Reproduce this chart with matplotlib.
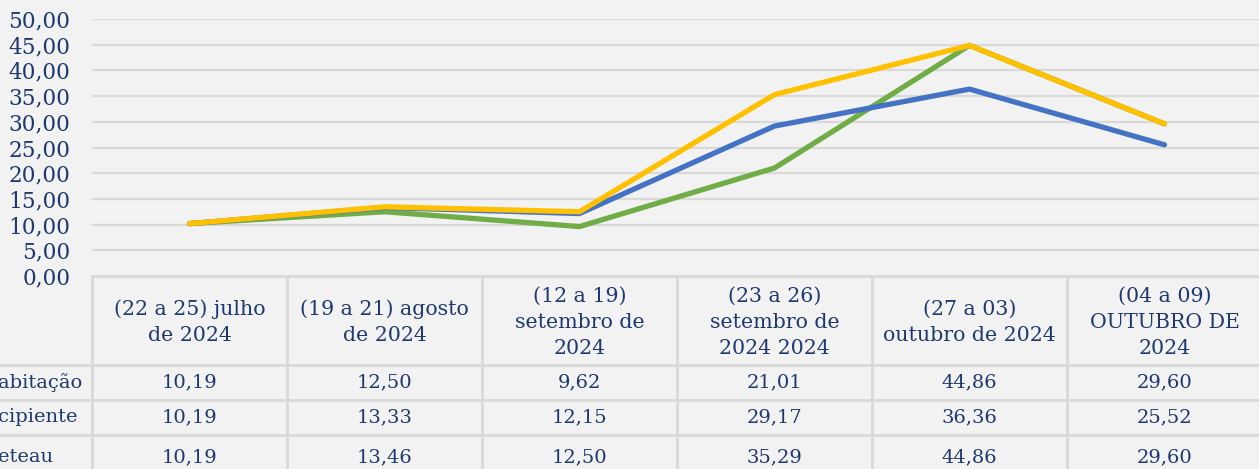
import matplotlib.pyplot as plt

# Data
periodos = ["(22 a 25) julho\nde 2024", "(19 a 21) agosto\nde 2024", "(12 a 19)\nsetembro de\n2024",
            "(23 a 26)\nsetembro de\n2024 2024", "(27 a 03)\noutubro de 2024", "(04 a 09)\nOUTUBRO DE\n2024"]
series_nomes = ["abitação", "cipiente", "eteau"]
habitacao = [10.19, 12.50, 9.62, 21.01, 44.86, 29.60]
incipiente = [10.19, 13.33, 12.15, 29.17, 36.36, 25.52]
eteau = [10.19, 13.46, 12.50, 35.29, 44.86, 29.60]
cores = ["#70AD47", "#4472C4", "#FFC000"]
yticks = [0, 5, 10, 15, 20, 25, 30, 35, 40, 45, 50]

W, H = 1259, 469
bg = "#F2F2F2"
grid = "#D9D9D9"
txt = "#1E3870"
plt.rcParams['font.family'] = ['DejaVu Serif']

fig = plt.figure(figsize=(W / 100, H / 100), dpi=100, facecolor=bg)

# pixel layout
x0, colw = 92, 195
y0, y50 = 276, 19
rows = [365, 400, 435, 479]

ax = fig.add_axes([x0 / W, (H - y0) / H, 6 * colw / W, (y0 - y50) / H])
ax.set_facecolor(bg)
xs = list(range(6))
for vals, c in zip([habitacao, incipiente, eteau], cores):
    ax.plot(xs, vals, color=c, lw=3.8, solid_capstyle='round', solid_joinstyle='miter', zorder=3)
ax.set_xlim(-0.5, 5.5)
ax.set_ylim(0, 50)
ax.set_yticks(yticks)
ax.set_yticklabels([f"{v:.2f}".replace(".", ",") for v in yticks], color=txt, fontsize=15.6)
ax.tick_params(axis='y', length=0, pad=15.5)
ax.set_xticks([])
for v in yticks[1:]:
    ax.axhline(v, color=grid, lw=1.6, zorder=1)
for s in ax.spines.values():
    s.set_visible(False)

# data table below the axis
tb = fig.add_axes([0, 0, 1, 1], facecolor='none')
tb.set_xlim(0, W)
tb.set_ylim(H, 0)
tb.axis('off')
tb.plot([x0, W], [y0, y0], color=grid, lw=2)
for r in rows[:-1]:
    tb.plot([0, W], [r, r], color=grid, lw=2)
for i in range(7):
    tb.plot([x0 + i * colw, x0 + i * colw], [y0, H], color=grid, lw=2)

for i, lab in enumerate(periodos):
    tb.text(x0 + (i + 0.5) * colw, (y0 + rows[0]) / 2 + 2, lab, ha='center', va='center',
            color=txt, fontsize=14.8, linespacing=1.47)

for j, (nome, vals) in enumerate(zip(series_nomes, [habitacao, incipiente, eteau])):
    yc = (rows[j] + rows[j + 1]) / 2
    tb.text(-2, yc, nome, ha='left', va='center', color=txt, fontsize=14)
    for i, v in enumerate(vals):
        tb.text(x0 + (i + 0.5) * colw, yc, f"{v:.2f}".replace(".", ","), ha='center', va='center',
                color=txt, fontsize=14)

fig.savefig("out.png", dpi=100, facecolor=bg)
